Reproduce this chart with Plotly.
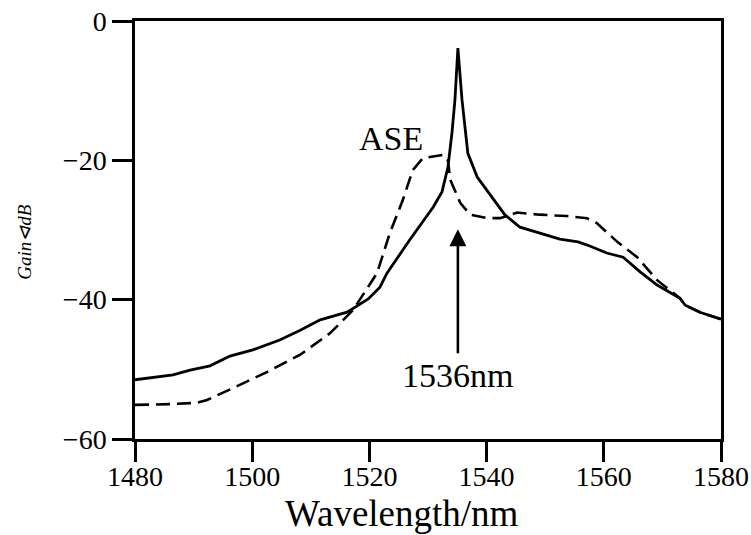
import plotly.graph_objects as go

# Signal (solid) spectrum
wl_signal = [1480, 1483, 1486.5, 1489.4, 1492.8, 1496.2, 1500.1, 1504.7, 1508.2, 1511.6,
             1516.2, 1519.8, 1521.8, 1523.0, 1526.9, 1530.9, 1532.4, 1533.4, 1534.1, 1534.6,
             1535.1, 1535.8, 1536.3, 1536.8, 1538.4, 1540.6, 1543.1, 1545.7, 1549.1, 1552.5,
             1555.6, 1557.6, 1560.5, 1563.3, 1566.2, 1569.1, 1573.0, 1573.9, 1576.4, 1580]
gain_signal = [-51.5, -51.2, -50.8, -50.1, -49.5, -48.1, -47.2, -45.8, -44.4, -42.9,
               -41.8, -39.9, -38.2, -36.2, -31.4, -26.7, -24.5, -21.0, -16.0, -11.3,
               -3.9, -11.3, -15.2, -19.0, -22.4, -25.0, -27.8, -29.6, -30.4, -31.3,
               -31.7, -32.3, -33.3, -33.9, -36.0, -37.9, -39.8, -40.8, -41.8, -42.8]

# ASE (dashed) spectrum
wl_ase = [1480, 1486, 1490.6, 1492.3, 1496.7, 1502.5, 1508.2, 1513.3, 1517.2, 1519.6,
          1521.3, 1523.5, 1525.7, 1527.4, 1529.1, 1532.6, 1533.4, 1533.8, 1535.5, 1537.2,
          1540.1, 1542.3, 1545.2, 1549.1, 1553.7, 1557.1, 1558.8, 1562.3, 1565.7, 1569.1,
          1571.3, 1573.0, 1573.9, 1576.4, 1580]
gain_ase = [-55.1, -55.0, -54.8, -54.4, -52.7, -50.4, -47.9, -44.8, -41.5, -38.3,
            -36.2, -30.4, -25.7, -21.4, -19.7, -19.2, -20.0, -22.8, -26.1, -27.8,
            -28.3, -28.3, -27.5, -27.8, -28.0, -28.3, -29.0, -31.7, -33.9, -37.2,
            -38.6, -39.8, -40.8, -41.8, -42.8]

x_ticks = [1480, 1500, 1520, 1540, 1560, 1580]
y_ticks = [-60, -40, -20, 0]
y_tick_text = ["\u221260", "\u221240", "\u221220", "0"]

peak_wl = 1535.1
arrow_tip, arrow_tail = -29.9, -47.9

SERIF = "Liberation Serif"

fig = go.Figure()
fig.add_trace(go.Scatter(x=wl_ase, y=gain_ase, mode="lines", name="ASE",
                         line=dict(color="black", width=2.6, dash="14px,7px")))
fig.add_trace(go.Scatter(x=wl_signal, y=gain_signal, mode="lines", name="Signal",
                         line=dict(color="black", width=2.8)))

fig.update_layout(
    width=751, height=535,
    margin=dict(l=135, r=30, t=21, b=96),
    paper_bgcolor="white", plot_bgcolor="white",
    showlegend=False,
    font=dict(family=SERIF, color="black", size=28),
    xaxis=dict(range=[1480, 1580], tickvals=x_ticks, ticks="outside", ticklen=20,
               tickwidth=2.5, tickcolor="black", showline=True, linecolor="black",
               linewidth=2.5, mirror=True, showgrid=False, zeroline=False,
               automargin=False, ticklabelstandoff=-9,
               tickfont=dict(family=SERIF, size=28, color="black")),
    yaxis=dict(range=[-60, 0], tickvals=y_ticks, ticktext=y_tick_text, ticks="outside",
               ticklen=20, tickwidth=2.5, tickcolor="black", showline=True,
               linecolor="black", linewidth=2.5, mirror=True, showgrid=False,
               zeroline=False, automargin=False,
               tickfont=dict(family=SERIF, size=28, color="black")),
    annotations=[
        dict(x=0.456, y=-0.178, xref="paper", yref="paper", text="Wavelength/nm",
             showarrow=False, font=dict(family=SERIF, size=37, color="black"),
             xanchor="center", yanchor="middle"),
        dict(x=-0.19, y=0.471, xref="paper", yref="paper", text="<i>Gain\u22b2dB</i>",
             showarrow=False, textangle=-90, font=dict(family=SERIF, size=19, color="black"),
             xanchor="center", yanchor="middle"),
        dict(x=1523.6, y=-16.9, xref="x", yref="y", text="ASE", showarrow=False,
             font=dict(family=SERIF, size=34, color="black"), xanchor="center", yanchor="middle"),
        dict(x=1535.1, y=-50.9, xref="x", yref="y", text="1536nm", showarrow=False,
             font=dict(family=SERIF, size=34, color="black"), xanchor="center", yanchor="middle"),
        dict(x=peak_wl, y=arrow_tip, ax=peak_wl, ay=arrow_tail, xref="x", yref="y",
             axref="x", ayref="y", text="", showarrow=True, arrowhead=2, arrowsize=1.3,
             arrowwidth=2.6, arrowcolor="black", standoff=0, startstandoff=0),
    ],
)

fig.write_html("out.html", config={"displayModeBar": False},
               post_script="document.body.style.margin='0';document.body.style.overflow='hidden';")
